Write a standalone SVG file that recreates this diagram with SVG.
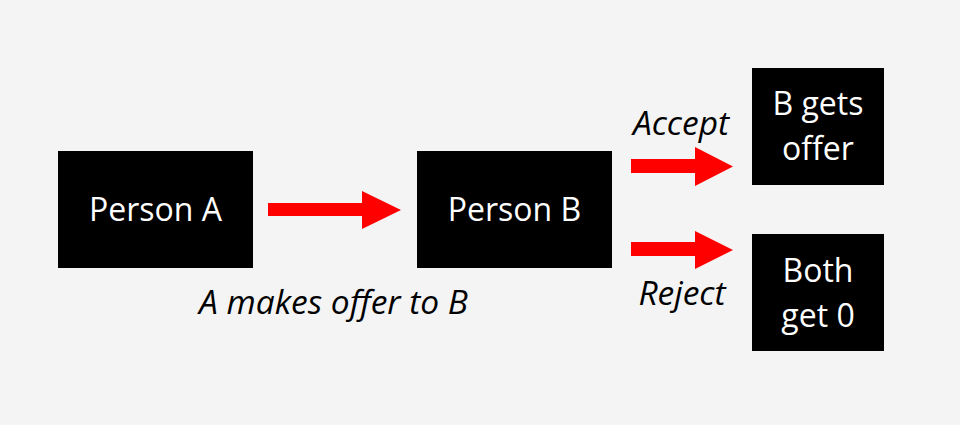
<svg xmlns="http://www.w3.org/2000/svg" width="960" height="425" viewBox="0 0 960 425">
<style>
.box{fill:#000}
.lbl{fill:#fff;font-family:"Open Sans","Noto Sans",sans-serif;font-size:32px;text-anchor:middle}
.cap{fill:#000;font-family:"Open Sans","Noto Sans",sans-serif;font-size:33.5px;font-style:italic;text-anchor:middle}
.arr{fill:#f00}
</style>
<rect width="960" height="425" fill="#f4f4f4"/>
<g id="personA"><rect class="box" x="58" y="151" width="195" height="117"/><text class="lbl" x="155.5" y="221">Person A</text></g>
<g id="personB"><rect class="box" x="417" y="151" width="195" height="117"/><text class="lbl" x="514.5" y="221">Person B</text></g>
<g id="bGetsOffer"><rect class="box" x="752" y="68" width="132" height="117"/><text class="lbl" x="818" y="115">B gets</text><text class="lbl" x="818" y="160">offer</text></g>
<g id="bothGet0"><rect class="box" x="752" y="234" width="132" height="117"/><text class="lbl" x="818" y="282">Both</text><text class="lbl" x="818" y="327">get 0</text></g>
<g id="connectors">
<polygon class="arr" points="268,203 362,203 362,191 401,210 362,229 362,216 268,216"/>
<polygon class="arr" points="631,159 695,159 695,147 733,166.5 695,186 695,173 631,173"/>
<polygon class="arr" points="631,242 695,242 695,231 733,250 695,269 695,256 631,256"/>
<text class="cap" x="681" y="135">Accept</text>
<text class="cap" x="682" y="305">Reject</text>
<text class="cap" x="333.5" y="314">A makes offer to B</text>
</g>
</svg>
